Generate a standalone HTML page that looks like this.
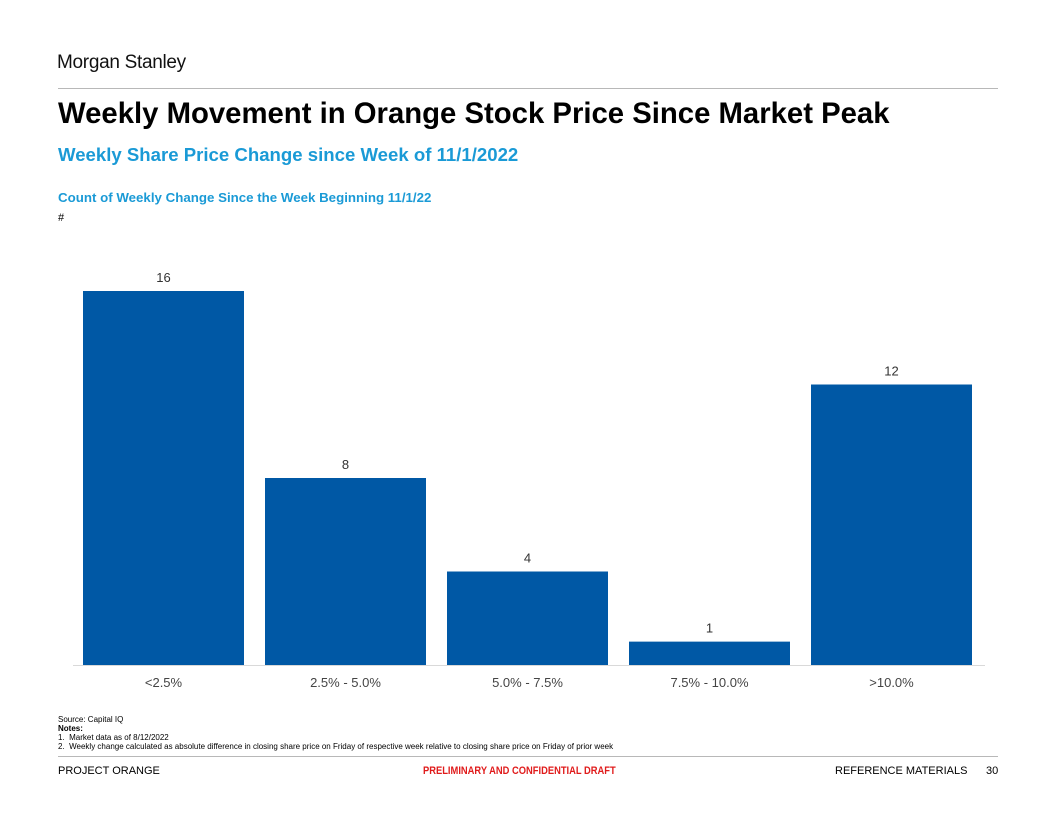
<!DOCTYPE html>
<html><head><meta charset="utf-8"><style>
body{margin:0;width:1056px;height:816px;background:#fff;position:relative;font-family:"Liberation Sans",sans-serif;overflow:hidden}
.a{position:absolute;white-space:nowrap}
</style></head><body>
<div class="a" style="left:57px;top:52px;font-size:19px;color:#111;letter-spacing:-0.3px">Morgan Stanley</div>
<div class="a" style="left:58px;top:88px;width:940px;height:1px;background:#b8b8b8"></div>
<div class="a" style="left:58px;top:97px;font-size:29.3px;font-weight:bold;color:#000">Weekly Movement in Orange Stock Price Since Market Peak</div>
<div class="a" style="left:58px;top:144px;font-size:18.6px;font-weight:bold;color:#1a9ad6">Weekly Share Price Change since Week of 11/1/2022</div>
<div class="a" style="left:58px;top:190px;font-size:13.3px;font-weight:bold;color:#1a9ad6">Count of Weekly Change Since the Week Beginning 11/1/22</div>
<div class="a" style="left:58px;top:212px;font-size:11px;color:#000">#</div>
<svg class="a" style="left:0;top:0" width="1056" height="816" id="chart"></svg>
<div class="a" style="left:58px;top:715px;font-size:8px;line-height:9px;color:#000">Source: Capital IQ<br><b>Notes:</b><br>1.&nbsp; Market data as of 8/12/2022<br>2.&nbsp; Weekly change calculated as absolute difference in closing share price on Friday of respective week relative to closing share price on Friday of prior week</div>
<div class="a" style="left:58px;top:756px;width:940px;height:1px;background:#b8b8b8"></div>
<div class="a" style="left:58px;top:765px;font-size:11px;color:#000">PROJECT ORANGE</div>
<div class="a" style="left:423px;top:765px;font-size:11px;font-weight:bold;color:#e01b1b;transform:scaleX(0.85);transform-origin:left">PRELIMINARY AND CONFIDENTIAL DRAFT</div>
<div class="a" style="left:835px;top:765px;font-size:11px;color:#000">REFERENCE MATERIALS</div>
<div class="a" style="left:986px;top:765px;font-size:11px;color:#000">30</div>
<script>
const categories=["<2.5%","2.5% - 5.0%","5.0% - 7.5%","7.5% - 10.0%",">10.0%"];
const counts=[16,8,4,1,12];
const svg=document.getElementById('chart');
const NS='http://www.w3.org/2000/svg';
const base=665,scale=374/16,x0=83,pitch=182,bw=161;
const y=v=>base-v*scale;
const x=i=>x0+i*pitch;
function mk(t,a){const e=document.createElementNS(NS,t);for(const k in a)e.setAttribute(k,a[k]);svg.appendChild(e);return e;}
counts.forEach((v,i)=>{
  const r=mk('rect',{x:x(i),y:y(v),width:bw,height:v*scale,fill:'#0058a5'});
  
  
  const t=mk('text',{x:x(i)+bw/2,y:y(v)-9,'text-anchor':'middle','font-size':13,fill:'#333','font-family':'Liberation Sans'});
  t.textContent=v;
  
  
  const c=mk('text',{x:x(i)+bw/2,y:base+22,'text-anchor':'middle','font-size':13,fill:'#444','font-family':'Liberation Sans'});
  c.textContent=categories[i];
  
  
});
const ax=mk('line',{x1:73,x2:985,y1:base+0.5,y2:base+0.5,stroke:'#d9d9d9','stroke-width':1});


</script>
</body></html>
